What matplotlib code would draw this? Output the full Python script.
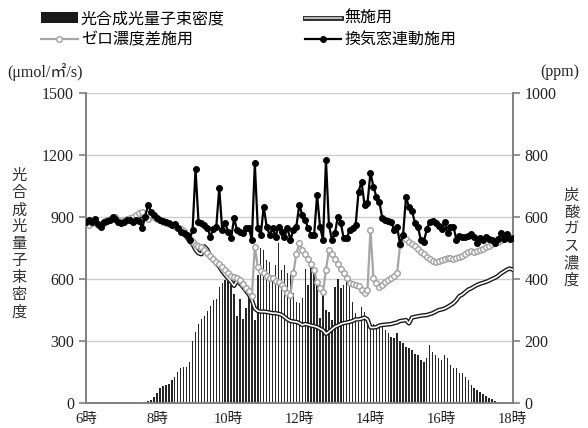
import numpy as np
import matplotlib
matplotlib.use('Agg')
import matplotlib.pyplot as plt
import matplotlib.patheffects as pe
from matplotlib.lines import Line2D
from matplotlib.patches import Patch

plt.rcParams['font.family'] = ['Liberation Serif', 'Noto Sans CJK JP']

# 5-minute readings from 6:00 to 18:00
hours = 6 + np.arange(145) / 12

ppfd = [3, 2, 4, 3, 2, 3, 5, 4, 3, 2, 4, 6, 5, 3, 4, 6, 5, 4, 3, 4,
        5, 10, 16, 28, 50, 72, 85, 90, 95, 112, 127, 150, 172, 175, 176, 198, 300, 345, 385, 405,
        420, 445, 468, 500, 506, 560, 580, 595, 590, 570, 530, 420, 505, 405, 460, 520, 540, 400, 620, 750,
        740, 692, 684, 595, 668, 773, 644, 668, 628, 620, 531, 490, 484, 508, 647, 571, 663, 643, 587, 410,
        547, 450, 442, 402, 563, 598, 555, 571, 587, 582, 490, 437, 394, 466, 442, 402, 385, 382, 369, 385,
        369, 353, 340, 321, 313, 340, 300, 289, 273, 265, 256, 240, 232, 208, 200, 216, 281, 248, 232, 216,
        208, 232, 216, 184, 168, 168, 147, 144, 125, 110, 90, 75, 63, 55, 45, 35, 26, 18, 11, 6,
        3, 0, 0, 0, 0]

co2_window = [585, 590, 585, 592, 578, 569, 585, 588, 590, 601, 595, 585, 580, 585, 590, 590, 585, 590, 588, 564,
              600, 639, 617, 607, 596, 590, 588, 585, 580, 574, 578, 564, 553, 550, 542, 526, 558, 754, 585, 580,
              574, 565, 537, 560, 569, 693, 558, 580, 553, 531, 596, 558, 553, 547, 564, 564, 526, 773, 564, 542,
              633, 569, 542, 564, 537, 569, 553, 537, 564, 526, 558, 569, 639, 607, 590, 564, 542, 542, 671, 569,
              526, 784, 574, 526, 547, 601, 580, 531, 531, 558, 564, 574, 682, 714, 639, 644, 743, 698, 666, 649,
              596, 590, 588, 585, 558, 569, 512, 542, 664, 631, 620, 582, 569, 526, 520, 560, 585, 588, 582, 571,
              560, 585, 547, 567, 569, 526, 539, 535, 535, 539, 545, 535, 515, 531, 526, 535, 530, 526, 517, 528,
              547, 528, 545, 528, 531]

co2_zero = [580, 575, 580, 585, 575, 570, 580, 590, 595, 598, 600, 590, 585, 590, 595, 598, 600, 605, 612, 617,
            600, 595, 605, 600, 592, 590, 585, 582, 578, 574, 570, 565, 560, 555, 542, 530, 520, 510, 505, 502,
            495, 485, 475, 465, 456, 448, 438, 428, 418, 410, 408, 405, 397, 385, 372, 360, 345, 504, 440, 425,
            418, 410, 405, 402, 395, 390, 380, 370, 355, 350, 420, 480, 517, 495, 480, 465, 450, 430, 390, 372,
            359, 430, 494, 480, 465, 450, 434, 418, 402, 388, 384, 382, 378, 365, 354, 365, 558, 405, 386, 375,
            380, 391, 398, 405, 410, 420, 510, 537, 528, 520, 512, 505, 496, 488, 480, 472, 465, 458, 455, 458,
            462, 465, 467, 468, 466, 468, 470, 475, 482, 488, 490, 488, 490, 495, 498, 504, 508, 512, 515, 520,
            526, 528, 531, 535, 537]

co2_none = [583, 580, 585, 588, 578, 572, 582, 588, 592, 596, 595, 588, 583, 586, 590, 592, 595, 598, 602, 605,
            598, 600, 602, 598, 592, 588, 584, 580, 576, 570, 566, 560, 555, 547, 535, 522, 512, 494, 483, 480,
            505, 495, 470, 461, 450, 440, 425, 413, 402, 391, 378, 395, 385, 375, 362, 350, 332, 305, 297, 295,
            295, 294, 292, 290, 290, 288, 285, 278, 270, 265, 263, 262, 258, 252, 255, 253, 250, 248, 245, 240,
            235, 223, 230, 238, 246, 250, 255, 258, 260, 262, 265, 270, 270, 272, 276, 270, 244, 244, 245, 250,
            252, 253, 254, 255, 258, 260, 265, 266, 268, 257, 276, 278, 280, 282, 283, 284, 287, 290, 295, 300,
            302, 305, 310, 316, 322, 332, 345, 350, 358, 366, 370, 376, 381, 385, 388, 391, 395, 400, 404, 410,
            418, 424, 430, 434, 430]

left_ticks = [0, 300, 600, 900, 1200, 1500]
right_ticks = [0, 200, 400, 600, 800, 1000]
hour_ticks = [6, 8, 10, 12, 14, 16, 18]

fig = plt.figure(figsize=(5.88, 4.28), dpi=100)
fig.patch.set_facecolor('white')
ax = fig.add_axes([0.146, 0.058, 0.726, 0.725])
ax2 = ax.twinx()

ax.bar(hours, ppfd, width=0.04, color='#262626', zorder=2)
ax.set_ylim(0, 1500)
ax.set_yticks(left_ticks)
ax.set_xlim(6, 18)
ax.set_xticks(hour_ticks)
ax.set_xticklabels([f'{h}時' for h in hour_ticks])
ax.grid(axis='y', color='#cccccc', lw=1)
ax.set_axisbelow(True)

ax2.plot(hours, co2_none, color='white', lw=1.2,
         path_effects=[pe.Stroke(linewidth=3.2, foreground='#1a1a1a'), pe.Normal()], zorder=3)
ax2.plot(hours, co2_zero, color='#a6a6a6', lw=1.6, marker='o', ms=4,
         mfc='white', mec='#a0a0a0', mew=1, zorder=4)
ax2.plot(hours, co2_window, color='black', lw=1.6, marker='o', ms=4, zorder=5)
ax2.set_ylim(0, 1000)
ax2.set_yticks(right_ticks)

for a in (ax, ax2):
    a.spines['top'].set_visible(False)
    for s in ('left', 'right', 'bottom'):
        a.spines[s].set_color('#808080')
        a.spines[s].set_linewidth(1.2)
    a.tick_params(axis='y', colors='#808080', labelcolor='#222222', labelsize=11.5, length=5, width=1.2)
    a.tick_params(axis='x', length=0, labelsize=10.5, labelcolor='#222222', pad=7)

jp = ['Noto Sans CJK JP']
for lab in ax.get_xticklabels():
    lab.set_family(['Liberation Serif', 'Noto Sans CJK JP'])

fig.text(0.032, 0.43, '\n'.join('光合成光量子束密度'), family=jp, fontsize=11,
         ha='center', va='center', linespacing=1.0, color='#333333')
fig.text(0.972, 0.445, '\n'.join('炭酸ガス濃度'), family=jp, fontsize=11,
         ha='center', va='center', linespacing=1.0, color='#333333')
fig.text(0.012, 0.832, '(μmol/㎡/s)', fontsize=11.5, ha='left', va='center', color='#222222')
fig.text(0.985, 0.832, '(ppm)', fontsize=11.5, ha='right', va='center', color='#222222')

handles = [
    Patch(facecolor='#1a1a1a', edgecolor='none'),
    Line2D([], [], color='#a6a6a6', lw=1.6, marker='o', ms=4, mfc='white', mec='#a0a0a0'),
    Line2D([], [], color='#bbbbbb', lw=1.4,
           path_effects=[pe.Stroke(linewidth=3.6, foreground='#333333'), pe.Normal()]),
    Line2D([], [], color='black', lw=1.6, marker='o', ms=4),
]
labels = ['光合成光量子束密度', 'ゼロ濃度差施用', '無施用', '換気窓連動施用']
fig.legend(handles, labels, loc='upper left', bbox_to_anchor=(0.045, 1.01), ncol=2,
           frameon=False, prop={'family': jp, 'size': 11.5}, handlelength=2.3,
           handleheight=0.6, handletextpad=0.2, columnspacing=5.0, labelspacing=0.25)

plt.savefig('out.png', dpi=100, transparent=False)
